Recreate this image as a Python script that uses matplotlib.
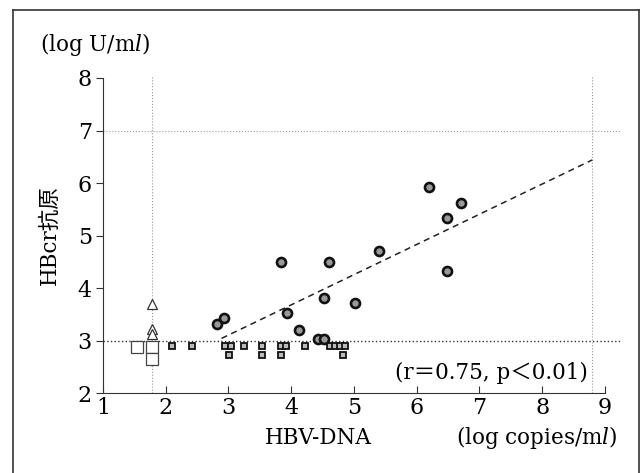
import matplotlib
matplotlib.use('Agg')
import matplotlib.pyplot as plt
from matplotlib import rcParams
from matplotlib.lines import Line2D

rcParams['font.family'] = ['DejaVu Serif', 'Noto Sans CJK JP']
rcParams['mathtext.fontset'] = 'custom'
rcParams['mathtext.rm'] = 'DejaVu Serif'
rcParams['mathtext.it'] = 'DejaVu Serif:italic'

# open squares (HBV-DNA below detection)
open_sq_x = [1.55, 1.78, 1.78]
open_sq_y = [2.88, 2.88, 2.64]

# open triangles
tri_x = [1.78, 1.78, 1.78]
tri_y = [3.70, 3.22, 3.12]

# small squares (HBcr antigen below cutoff)
sq_x = [2.10, 2.42, 2.94, 3.04, 3.24, 3.54, 3.84, 3.92, 4.22, 4.62, 4.70, 4.78, 4.86,
        3.01, 3.54, 3.83, 4.82]
sq_y = [2.89, 2.89, 2.89, 2.89, 2.89, 2.89, 2.89, 2.89, 2.89, 2.89, 2.89, 2.89, 2.89,
        2.73, 2.73, 2.73, 2.73]

# filled circles
circ_x = [2.82, 2.93, 3.84, 3.93, 4.13, 4.42, 4.53, 4.52, 4.61, 5.01, 5.40, 6.20, 6.49, 6.49, 6.71]
circ_y = [3.31, 3.42, 4.50, 3.52, 3.20, 3.02, 3.02, 3.81, 4.50, 3.71, 4.71, 5.93, 5.34, 4.32, 5.62]

# regression line end points
reg_x = [2.89, 8.80]
reg_y = [3.04, 6.44]

xticks = [1, 2, 3, 4, 5, 6, 7, 8, 9]
yticks = [2, 3, 4, 5, 6, 7, 8]

fig = plt.figure(figsize=(6.44, 4.73), dpi=100)
ax = fig.add_axes([0.1599, 0.1691, 0.8183, 0.6993])
ax.set_xlim(1, 9.4)
ax.set_ylim(2, 8.3)

# dotted reference lines
ax.plot([1, 9.25], [7, 7], ls=':', color='#999999', lw=0.8)
ax.plot([1, 9.25], [3, 3], ls=':', color='#333333', lw=1.0)
ax.plot([1.78, 1.78], [2, 8.05], ls=':', color='#999999', lw=0.8)
ax.plot([8.80, 8.80], [2, 8.05], ls=':', color='#999999', lw=0.8)

ax.plot(reg_x, reg_y, ls=(0, (4, 3)), color='#222222', lw=1.1)

ax.plot(open_sq_x, open_sq_y, 's', ms=8.5, mfc='white', mec='#444444', mew=0.9, ls='none')
ax.plot(tri_x, tri_y, '^', ms=7.5, mfc='white', mec='#333333', mew=0.9, ls='none')
ax.plot(sq_x, sq_y, 's', ms=5, mfc='#bbbbbb', mec='#111111', mew=1.3, ls='none')
ax.plot(circ_x, circ_y, 'o', ms=6.5, mfc='#999999', mec='#111111', mew=1.9, ls='none')

for s in ['top', 'right']:
    ax.spines[s].set_visible(False)
ax.spines['left'].set_bounds(2, 8)
ax.spines['bottom'].set_bounds(1, 9)
ax.spines['left'].set_color('#333333')
ax.spines['bottom'].set_color('#333333')

ax.set_xticks(xticks)
ax.set_yticks(yticks)
ax.set_xticklabels([str(t) for t in xticks])
ax.set_yticklabels([str(t) for t in yticks])
ax.tick_params(axis='x', direction='in', length=5, labelsize=16, pad=3, color='#333333')
ax.tick_params(axis='y', direction='out', length=5, labelsize=16, pad=3, color='#333333')

fig.text(0.1475, 0.9049, r'(log U/m$\mathit{l}$)', fontsize=15.5, ha='center', va='center')
fig.text(0.0776, 0.503, 'HBcr抗原', fontsize=15.5, ha='center', va='center', rotation=90)
fig.text(0.4938, 0.074, 'HBV-DNA', fontsize=15.5, ha='center', va='center')
fig.text(0.834, 0.074, r'(log copies/m$\mathit{l}$)', fontsize=15.5, ha='center', va='center')
fig.text(0.7624, 0.2114, '(r＝0.75, p＜0.01)', fontsize=15.5, ha='center', va='center')

# outer frame
frame = dict(color='#333333', lw=1.2, transform=fig.transFigure)
fig.add_artist(Line2D([13 / 644, 13 / 644], [0, 1 - 10 / 473], **frame))
fig.add_artist(Line2D([13 / 644, 639 / 644], [1 - 10 / 473, 1 - 10 / 473], **frame))
fig.add_artist(Line2D([639 / 644, 639 / 644], [0, 1 - 10 / 473], **frame))

fig.savefig('out.png', dpi=100)
